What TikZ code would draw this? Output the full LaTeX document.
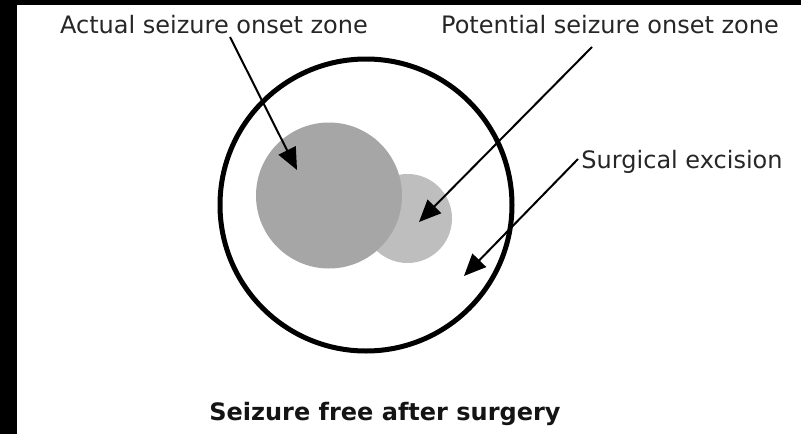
\documentclass[tikz,border=0pt]{standalone}
\usepackage{fontspec}
\setmainfont{DejaVu Sans}
\usetikzlibrary{arrows.meta}
\definecolor{darkzone}{HTML}{A6A6A6}
\definecolor{lightzone}{HTML}{BEBEBE}
\definecolor{labeltext}{HTML}{262626}
\begin{document}
\begin{tikzpicture}[x=1pt,y=-1pt,
  lbl/.style={inner sep=0pt, anchor=base, text=labeltext, font=\fontsize{24}{28}\selectfont},
  ptr/.style={line width=2pt, -{Triangle[length=22pt,width=19pt]}},
  zone/.style={circle, inner sep=0pt, draw=none},
]
\fill[black] (0,0) rectangle (801,434);
\fill[white] (17,5) rectangle (801,434);
\useasboundingbox (0,0) rectangle (801,434);

% zones
\node[zone, fill=lightzone, minimum size=89pt] (potential) at (407.5,218.5) {};
\node[zone, fill=darkzone, minimum size=146pt] (actual) at (329,195.5) {};
\node[circle, inner sep=0pt, draw=black, line width=5pt, minimum size=292pt] (excision) at (366,205) {};

% labels
\node[lbl] (tA) at (214,33) {Actual seizure onset zone};
\node[lbl] (tP) at (610,33) {Potential seizure onset zone};
\node[lbl] (tS) at (682,168) {Surgical excision};
\node[lbl, text=black!92, font=\fontsize{24}{28}\selectfont\bfseries] (tF) at (385,420) {Seizure free after surgery};

% arrow end points
\coordinate (sA) at (230,37);
\coordinate (eA) at (297,170);
\coordinate (sP) at (592,47);
\coordinate (eP) at (419,222);
\coordinate (sS) at (578,159);
\coordinate (eS) at (464,276);

\draw[ptr] (sA) -- (eA);
\draw[ptr] (sP) -- (eP);
\draw[ptr] (sS) -- (eS);
\end{tikzpicture}
\end{document}
